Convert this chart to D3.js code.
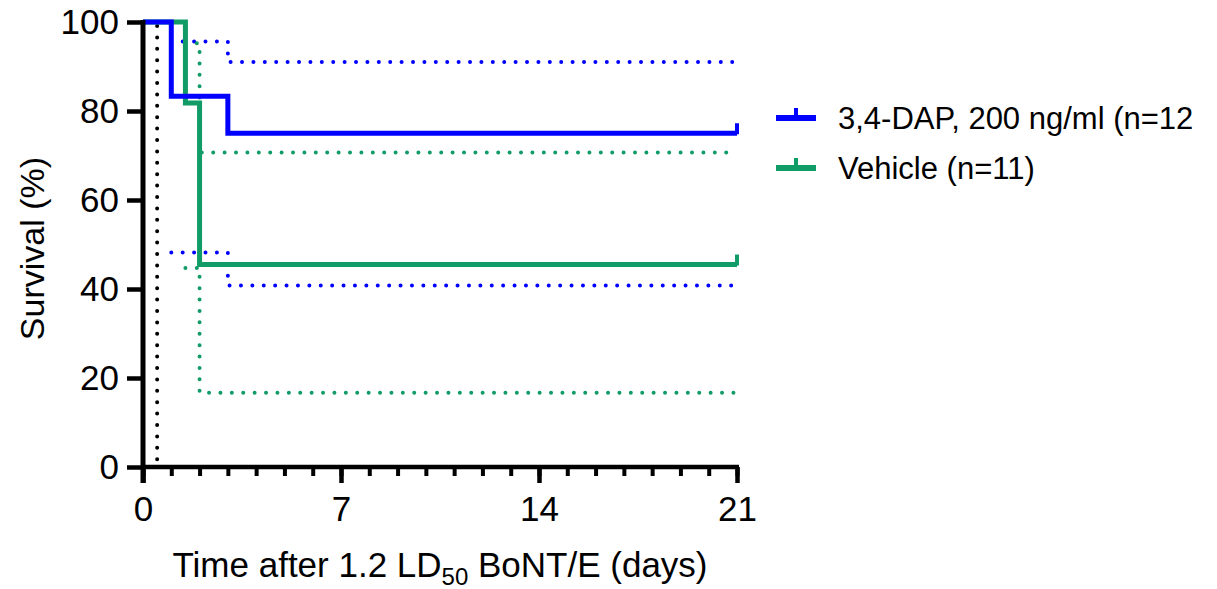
<!DOCTYPE html>
<html>
<head>
<meta charset="utf-8">
<script src="https://cdn.jsdelivr.net/npm/d3@7"></script>
<style>
  body { margin: 0; background: #fff; }
  svg { display: block; font-family: "Liberation Sans", Arial, sans-serif; }
</style>
</head>
<body>
<svg id="chart" width="1217" height="589"></svg>
<script>
// Kaplan-Meier step data: [day, survival %]
var dapSurvival = [[0, 100], [1, 100], [1, 83.3], [3, 83.3], [3, 75], [21, 75]];
var dapUpper = [[1, 95.6], [3, 95.6], [3, 91.0], [21, 91.0]];
var dapLower = [[1, 48.2], [3, 48.2], [3, 40.8], [21, 40.8]];
var vehSurvival = [[0, 100], [1.5, 100], [1.5, 81.8], [2, 81.8], [2, 45.5], [21, 45.5]];
var vehUpper = [[1.5, 95.2], [2, 95.2], [2, 70.7], [21, 70.7]];
var vehLower = [[1.5, 44.7], [2, 44.7], [2, 16.7], [21, 16.7]];
var doseDay = 0.5;
var xTicks = [0, 7, 14, 21];
var yTicks = [0, 20, 40, 60, 80, 100];
var legendLabels = ["3,4-DAP, 200 ng/ml (n=12", "Vehicle (n=11)"];

var BLUE = "#0000ff", GREEN = "#119b66";

var svg = d3.select("#chart");
var m = { left: 143, right: 737, top: 22, bottom: 467 };

var x = d3.scaleLinear().domain([0, 21]).range([m.left, m.right]);
var y = d3.scaleLinear().domain([0, 100]).range([m.bottom, m.top]);
var line = d3.line().x(function(d) { return x(d[0]); }).y(function(d) { return y(d[1]); });

// dose marker
svg.append("line")
    .attr("x1", x(doseDay)).attr("x2", x(doseDay))
    .attr("y1", y(100) + 4).attr("y2", y(0))
    .attr("stroke", "#000").attr("stroke-width", 4)
    .attr("stroke-linecap", "round").attr("stroke-dasharray", "0 11.4");

// confidence bands
function dotted(data, color) {
  svg.append("path").datum(data)
      .attr("d", line).attr("fill", "none")
      .attr("stroke", color).attr("stroke-width", 4)
      .attr("stroke-linecap", "round").attr("stroke-dasharray", "0 11.4");
}
dotted(dapUpper, BLUE);
dotted(dapLower, BLUE);
dotted(vehUpper, GREEN);
dotted(vehLower, GREEN);

// survival curves
function curve(data, color) {
  svg.append("path").datum(data)
      .attr("d", line).attr("fill", "none")
      .attr("stroke", color).attr("stroke-width", 5)
      .attr("stroke-linejoin", "miter");
  var last = data[data.length - 1];
  svg.append("line")
      .attr("x1", x(last[0])).attr("x2", x(last[0]))
      .attr("y1", y(last[1]) + 1).attr("y2", y(last[1]) - 10)
      .attr("stroke", color).attr("stroke-width", 4);
}
curve(vehSurvival, GREEN);
curve(dapSurvival, BLUE);

// axes
var xMinor = svg.append("g")
    .attr("transform", "translate(0," + m.bottom + ")")
    .call(d3.axisBottom(x).tickValues(d3.range(0, 22)).tickSize(9).tickFormat(""));
xMinor.select(".domain").remove();
xMinor.selectAll("line").attr("stroke-width", 4);

var xAxis = svg.append("g")
    .attr("transform", "translate(0," + m.bottom + ")")
    .call(d3.axisBottom(x).tickValues(xTicks).tickSize(16).tickSizeOuter(0).tickPadding(13));
xAxis.select(".domain").attr("stroke-width", 4.5).attr("d", "M" + (m.left - 2) + ",0H" + (m.right + 2));
xAxis.selectAll("line").attr("stroke-width", 4.5);
xAxis.selectAll("text").attr("font-size", 35).attr("fill", "#000").attr("font-family", "Liberation Sans, Arial, sans-serif");

var yAxis = svg.append("g")
    .attr("transform", "translate(" + m.left + ",0)")
    .call(d3.axisLeft(y).tickValues(yTicks).tickSize(16).tickSizeOuter(0).tickPadding(8));
yAxis.select(".domain").attr("stroke-width", 5).attr("d", "M0," + (m.top - 2) + "V" + (m.bottom + 16));
yAxis.selectAll("line").attr("stroke-width", 4.5);
yAxis.selectAll("text").attr("font-size", 35).attr("fill", "#000").attr("font-family", "Liberation Sans, Arial, sans-serif");

// axis titles
svg.append("text")
    .attr("transform", "translate(44," + ((m.top + m.bottom) / 2 + 4) + ") rotate(-90)")
    .attr("text-anchor", "middle").attr("font-size", 34)
    .text("Survival (%)");

var xt = svg.append("text")
    .attr("x", (m.left + m.right) / 2).attr("y", 577)
    .attr("text-anchor", "middle").attr("font-size", 35);
xt.append("tspan").text("Time after 1.2 LD");
xt.append("tspan").attr("font-size", 24).attr("dy", 8).text("50");
xt.append("tspan").attr("dy", -8).text(" BoNT/E (days)");

// legend
var legend = svg.append("g").attr("transform", "translate(776,0)");
[BLUE, GREEN].forEach(function(c, i) {
  var ly = 118 + i * 50;
  legend.append("line").attr("x1", 0).attr("x2", 40).attr("y1", ly).attr("y2", ly)
      .attr("stroke", c).attr("stroke-width", 6);
  legend.append("line").attr("x1", 20).attr("x2", 20).attr("y1", ly).attr("y2", ly - 10)
      .attr("stroke", c).attr("stroke-width", 4);
  legend.append("text").attr("x", 62).attr("y", ly + 11)
      .attr("font-size", 31).text(legendLabels[i]);
});
</script>
</body>
</html>
